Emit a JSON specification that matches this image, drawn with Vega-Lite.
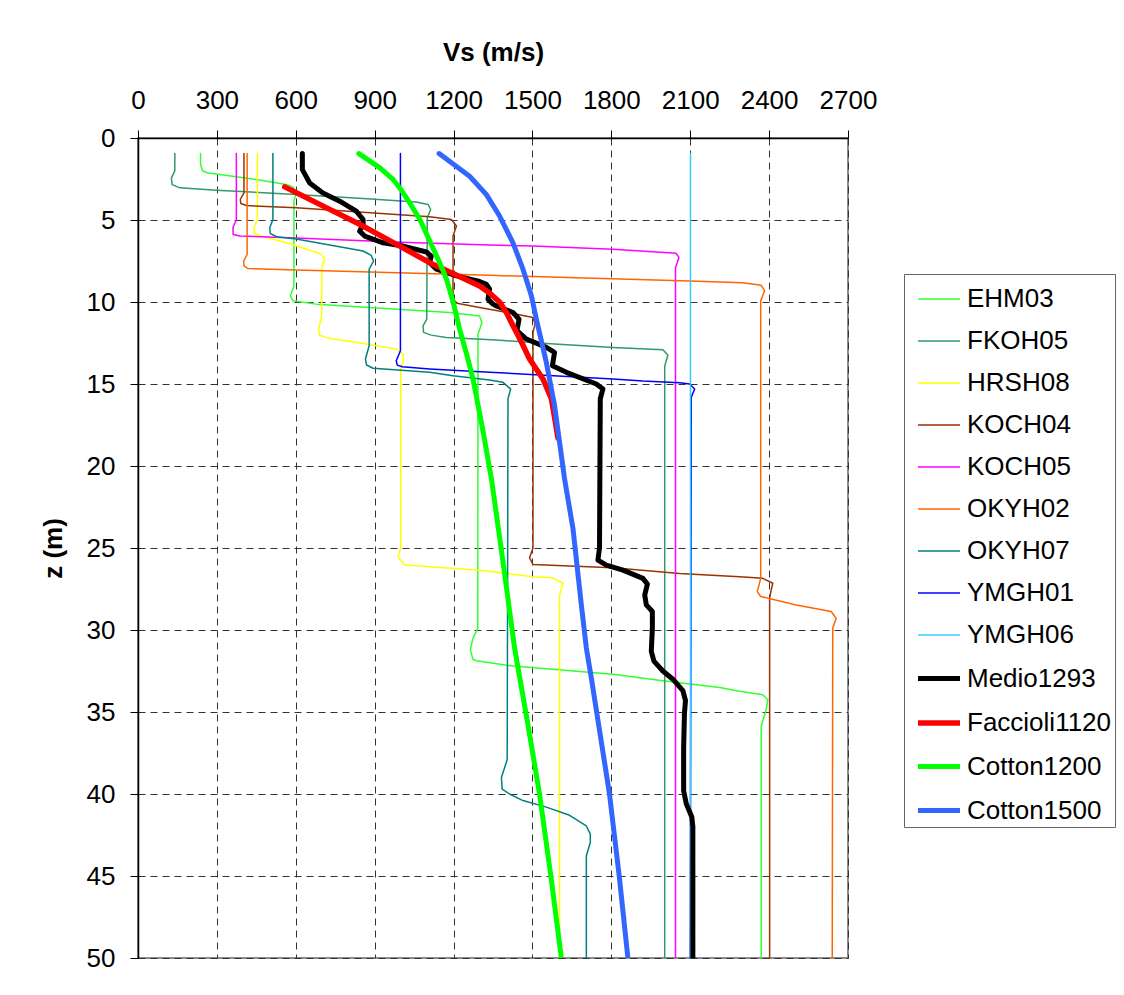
{
  "$schema": "https://vega.github.io/schema/vega-lite/v6.json",
  "width": 710,
  "height": 820,
  "autosize": {"type": "none"},
  "padding": {"left": 138, "top": 138, "right": 276, "bottom": 37},
  "background": "#ffffff",
  "config": {
    "font": "Liberation Sans",
    "view": {"stroke": "#8c8c8c", "strokeWidth": 2}
  },
  "data": {
    "values": [
      {"s":"EHM03","v":238,"z":0.95},{"s":"EHM03","v":238,"z":1.62},{"s":"EHM03","v":245,"z":2.0},{"s":"EHM03","v":266,"z":2.13},{"s":"EHM03","v":298,"z":2.19},{"s":"EHM03","v":450,"z":2.53},{"s":"EHM03","v":564,"z":2.84},{"s":"EHM03","v":589,"z":2.98},{"s":"EHM03","v":602,"z":3.35},{"s":"EHM03","v":593,"z":3.85},{"s":"EHM03","v":593,"z":9.02},{"s":"EHM03","v":579,"z":9.63},{"s":"EHM03","v":589,"z":9.93},{"s":"EHM03","v":678,"z":10.13},{"s":"EHM03","v":881,"z":10.34},{"s":"EHM03","v":1185,"z":10.64},{"s":"EHM03","v":1299,"z":10.85},{"s":"EHM03","v":1308,"z":11.25},{"s":"EHM03","v":1293,"z":11.96},{"s":"EHM03","v":1292,"z":29.9},{"s":"EHM03","v":1274,"z":30.5},{"s":"EHM03","v":1264,"z":31.2},{"s":"EHM03","v":1274,"z":31.8},{"s":"EHM03","v":1287,"z":31.87},{"s":"EHM03","v":1426,"z":32.2},{"s":"EHM03","v":1806,"z":32.7},{"s":"EHM03","v":1996,"z":33.1},{"s":"EHM03","v":2212,"z":33.5},{"s":"EHM03","v":2288,"z":33.74},{"s":"EHM03","v":2376,"z":33.95},{"s":"EHM03","v":2395,"z":34.25},{"s":"EHM03","v":2389,"z":34.86},{"s":"EHM03","v":2370,"z":35.87},{"s":"EHM03","v":2370,"z":50},
      {"s":"FKOH05","v":140,"z":0.95},{"s":"FKOH05","v":140,"z":2.0},{"s":"FKOH05","v":127,"z":2.43},{"s":"FKOH05","v":130,"z":2.84},{"s":"FKOH05","v":159,"z":3.04},{"s":"FKOH05","v":298,"z":3.18},{"s":"FKOH05","v":602,"z":3.45},{"s":"FKOH05","v":856,"z":3.69},{"s":"FKOH05","v":1058,"z":3.9},{"s":"FKOH05","v":1103,"z":4.05},{"s":"FKOH05","v":1113,"z":4.36},{"s":"FKOH05","v":1100,"z":4.86},{"s":"FKOH05","v":1098,"z":11.05},{"s":"FKOH05","v":1084,"z":11.45},{"s":"FKOH05","v":1086,"z":11.85},{"s":"FKOH05","v":1115,"z":12.02},{"s":"FKOH05","v":1172,"z":12.16},{"s":"FKOH05","v":1363,"z":12.32},{"s":"FKOH05","v":1553,"z":12.53},{"s":"FKOH05","v":1806,"z":12.77},{"s":"FKOH05","v":1996,"z":12.91},{"s":"FKOH05","v":2015,"z":13.23},{"s":"FKOH05","v":2003,"z":13.92},{"s":"FKOH05","v":2003,"z":50},
      {"s":"HRSH08","v":454,"z":0.95},{"s":"HRSH08","v":454,"z":4.97},{"s":"HRSH08","v":441,"z":5.47},{"s":"HRSH08","v":443,"z":5.82},{"s":"HRSH08","v":469,"z":5.98},{"s":"HRSH08","v":589,"z":6.49},{"s":"HRSH08","v":697,"z":7.09},{"s":"HRSH08","v":710,"z":7.4},{"s":"HRSH08","v":699,"z":7.9},{"s":"HRSH08","v":698,"z":10.9},{"s":"HRSH08","v":687,"z":11.65},{"s":"HRSH08","v":690,"z":12.02},{"s":"HRSH08","v":729,"z":12.22},{"s":"HRSH08","v":805,"z":12.4},{"s":"HRSH08","v":982,"z":12.87},{"s":"HRSH08","v":1008,"z":13.17},{"s":"HRSH08","v":1010,"z":13.48},{"s":"HRSH08","v":999,"z":14.08},{"s":"HRSH08","v":999,"z":25.0},{"s":"HRSH08","v":989,"z":25.53},{"s":"HRSH08","v":1014,"z":26.04},{"s":"HRSH08","v":1071,"z":26.1},{"s":"HRSH08","v":1299,"z":26.35},{"s":"HRSH08","v":1502,"z":26.75},{"s":"HRSH08","v":1578,"z":26.82},{"s":"HRSH08","v":1616,"z":27.15},{"s":"HRSH08","v":1603,"z":27.9},{"s":"HRSH08","v":1603,"z":50},
      {"s":"KOCH04","v":403,"z":0.95},{"s":"KOCH04","v":403,"z":3.35},{"s":"KOCH04","v":389,"z":3.75},{"s":"KOCH04","v":391,"z":3.99},{"s":"KOCH04","v":412,"z":4.12},{"s":"KOCH04","v":602,"z":4.25},{"s":"KOCH04","v":1109,"z":4.8},{"s":"KOCH04","v":1192,"z":4.97},{"s":"KOCH04","v":1211,"z":5.37},{"s":"KOCH04","v":1198,"z":5.98},{"s":"KOCH04","v":1198,"z":9.6},{"s":"KOCH04","v":1202,"z":9.9},{"s":"KOCH04","v":1213,"z":10.07},{"s":"KOCH04","v":1299,"z":10.34},{"s":"KOCH04","v":1426,"z":10.7},{"s":"KOCH04","v":1502,"z":10.95},{"s":"KOCH04","v":1510,"z":11.35},{"s":"KOCH04","v":1502,"z":11.85},{"s":"KOCH04","v":1502,"z":25.0},{"s":"KOCH04","v":1489,"z":25.6},{"s":"KOCH04","v":1502,"z":26.0},{"s":"KOCH04","v":1806,"z":26.2},{"s":"KOCH04","v":2060,"z":26.55},{"s":"KOCH04","v":2288,"z":26.75},{"s":"KOCH04","v":2376,"z":26.85},{"s":"KOCH04","v":2414,"z":27.15},{"s":"KOCH04","v":2408,"z":27.55},{"s":"KOCH04","v":2402,"z":28.05},{"s":"KOCH04","v":2402,"z":50},
      {"s":"KOCH05","v":374,"z":0.95},{"s":"KOCH05","v":374,"z":4.97},{"s":"KOCH05","v":361,"z":5.47},{"s":"KOCH05","v":362,"z":5.88},{"s":"KOCH05","v":387,"z":5.98},{"s":"KOCH05","v":602,"z":6.09},{"s":"KOCH05","v":1000,"z":6.35},{"s":"KOCH05","v":1337,"z":6.53},{"s":"KOCH05","v":1502,"z":6.59},{"s":"KOCH05","v":1806,"z":6.79},{"s":"KOCH05","v":2047,"z":7.03},{"s":"KOCH05","v":2057,"z":7.3},{"s":"KOCH05","v":2044,"z":7.9},{"s":"KOCH05","v":2044,"z":50},
      {"s":"OKYH02","v":415,"z":0.95},{"s":"OKYH02","v":415,"z":7.1},{"s":"OKYH02","v":402,"z":7.5},{"s":"OKYH02","v":403,"z":7.8},{"s":"OKYH02","v":418,"z":7.96},{"s":"OKYH02","v":602,"z":8.05},{"s":"OKYH02","v":1337,"z":8.37},{"s":"OKYH02","v":1502,"z":8.45},{"s":"OKYH02","v":2098,"z":8.72},{"s":"OKYH02","v":2300,"z":8.82},{"s":"OKYH02","v":2370,"z":8.98},{"s":"OKYH02","v":2383,"z":9.32},{"s":"OKYH02","v":2368,"z":9.93},{"s":"OKYH02","v":2368,"z":26.85},{"s":"OKYH02","v":2355,"z":27.66},{"s":"OKYH02","v":2368,"z":27.96},{"s":"OKYH02","v":2503,"z":28.47},{"s":"OKYH02","v":2636,"z":28.87},{"s":"OKYH02","v":2655,"z":29.28},{"s":"OKYH02","v":2642,"z":29.9},{"s":"OKYH02","v":2640,"z":50},
      {"s":"OKYH07","v":513,"z":0.95},{"s":"OKYH07","v":513,"z":4.97},{"s":"OKYH07","v":501,"z":5.47},{"s":"OKYH07","v":503,"z":5.82},{"s":"OKYH07","v":526,"z":6.02},{"s":"OKYH07","v":602,"z":6.16},{"s":"OKYH07","v":856,"z":6.89},{"s":"OKYH07","v":887,"z":7.16},{"s":"OKYH07","v":896,"z":7.5},{"s":"OKYH07","v":879,"z":8.0},{"s":"OKYH07","v":879,"z":12.67},{"s":"OKYH07","v":865,"z":13.48},{"s":"OKYH07","v":869,"z":13.84},{"s":"OKYH07","v":894,"z":14.04},{"s":"OKYH07","v":1109,"z":14.29},{"s":"OKYH07","v":1198,"z":14.5},{"s":"OKYH07","v":1337,"z":14.75},{"s":"OKYH07","v":1388,"z":14.9},{"s":"OKYH07","v":1417,"z":15.3},{"s":"OKYH07","v":1407,"z":15.9},{"s":"OKYH07","v":1404,"z":37.9},{"s":"OKYH07","v":1382,"z":39.0},{"s":"OKYH07","v":1385,"z":39.7},{"s":"OKYH07","v":1413,"z":40.0},{"s":"OKYH07","v":1464,"z":40.4},{"s":"OKYH07","v":1553,"z":40.8},{"s":"OKYH07","v":1641,"z":41.3},{"s":"OKYH07","v":1705,"z":41.95},{"s":"OKYH07","v":1720,"z":42.45},{"s":"OKYH07","v":1720,"z":42.96},{"s":"OKYH07","v":1705,"z":43.77},{"s":"OKYH07","v":1705,"z":50},
      {"s":"YMGH01","v":998,"z":0.95},{"s":"YMGH01","v":998,"z":12.97},{"s":"YMGH01","v":982,"z":13.58},{"s":"YMGH01","v":986,"z":13.85},{"s":"YMGH01","v":1005,"z":13.95},{"s":"YMGH01","v":1109,"z":14.08},{"s":"YMGH01","v":1320,"z":14.27},{"s":"YMGH01","v":1806,"z":14.69},{"s":"YMGH01","v":1920,"z":14.82},{"s":"YMGH01","v":2060,"z":14.92},{"s":"YMGH01","v":2098,"z":15.0},{"s":"YMGH01","v":2117,"z":15.3},{"s":"YMGH01","v":2104,"z":15.8},{"s":"YMGH01","v":2100,"z":50},
      {"s":"YMGH06","v":2101,"z":0.95},{"s":"YMGH06","v":2101,"z":50},
      {"s":"Medio1293","v":625,"z":0.95},{"s":"Medio1293","v":625,"z":1.93},{"s":"Medio1293","v":653,"z":2.74},{"s":"Medio1293","v":703,"z":3.35},{"s":"Medio1293","v":767,"z":3.85},{"s":"Medio1293","v":830,"z":4.46},{"s":"Medio1293","v":856,"z":4.97},{"s":"Medio1293","v":856,"z":5.27},{"s":"Medio1293","v":843,"z":5.68},{"s":"Medio1293","v":862,"z":5.98},{"s":"Medio1293","v":932,"z":6.39},{"s":"Medio1293","v":1008,"z":6.59},{"s":"Medio1293","v":1097,"z":6.95},{"s":"Medio1293","v":1115,"z":7.2},{"s":"Medio1293","v":1109,"z":7.6},{"s":"Medio1293","v":1135,"z":8.0},{"s":"Medio1293","v":1211,"z":8.41},{"s":"Medio1293","v":1299,"z":8.75},{"s":"Medio1293","v":1325,"z":8.92},{"s":"Medio1293","v":1337,"z":9.22},{"s":"Medio1293","v":1331,"z":9.83},{"s":"Medio1293","v":1350,"z":10.13},{"s":"Medio1293","v":1363,"z":10.24},{"s":"Medio1293","v":1426,"z":10.64},{"s":"Medio1293","v":1449,"z":11.05},{"s":"Medio1293","v":1441,"z":11.75},{"s":"Medio1293","v":1477,"z":12.26},{"s":"Medio1293","v":1553,"z":12.77},{"s":"Medio1293","v":1584,"z":13.07},{"s":"Medio1293","v":1576,"z":13.88},{"s":"Medio1293","v":1629,"z":14.29},{"s":"Medio1293","v":1743,"z":15.0},{"s":"Medio1293","v":1768,"z":15.3},{"s":"Medio1293","v":1758,"z":15.9},{"s":"Medio1293","v":1755,"z":25.0},{"s":"Medio1293","v":1749,"z":25.74},{"s":"Medio1293","v":1781,"z":26.04},{"s":"Medio1293","v":1844,"z":26.35},{"s":"Medio1293","v":1920,"z":26.85},{"s":"Medio1293","v":1937,"z":27.2},{"s":"Medio1293","v":1927,"z":27.87},{"s":"Medio1293","v":1933,"z":28.47},{"s":"Medio1293","v":1956,"z":28.87},{"s":"Medio1293","v":1956,"z":29.9},{"s":"Medio1293","v":1952,"z":31.3},{"s":"Medio1293","v":1962,"z":31.9},{"s":"Medio1293","v":1996,"z":32.5},{"s":"Medio1293","v":2034,"z":33.0},{"s":"Medio1293","v":2072,"z":33.7},{"s":"Medio1293","v":2082,"z":34.3},{"s":"Medio1293","v":2078,"z":35.1},{"s":"Medio1293","v":2075,"z":37.2},{"s":"Medio1293","v":2075,"z":39.8},{"s":"Medio1293","v":2085,"z":40.6},{"s":"Medio1293","v":2106,"z":41.4},{"s":"Medio1293","v":2110,"z":42.0},{"s":"Medio1293","v":2110,"z":50},
      {"s":"Faccioli1120","v":558,"z":2.98},{"s":"Faccioli1120","v":710,"z":4.2},{"s":"Faccioli1120","v":856,"z":5.37},{"s":"Faccioli1120","v":985,"z":6.5},{"s":"Faccioli1120","v":1109,"z":7.6},{"s":"Faccioli1120","v":1210,"z":8.35},{"s":"Faccioli1120","v":1299,"z":9.02},{"s":"Faccioli1120","v":1337,"z":9.45},{"s":"Faccioli1120","v":1375,"z":10.0},{"s":"Faccioli1120","v":1401,"z":10.64},{"s":"Faccioli1120","v":1426,"z":11.45},{"s":"Faccioli1120","v":1460,"z":12.5},{"s":"Faccioli1120","v":1489,"z":13.48},{"s":"Faccioli1120","v":1540,"z":14.69},{"s":"Faccioli1120","v":1572,"z":15.9},{"s":"Faccioli1120","v":1586,"z":17.2},{"s":"Faccioli1120","v":1597,"z":18.3},
      {"s":"Cotton1200","v":840,"z":0.95},{"s":"Cotton1200","v":920,"z":1.82},{"s":"Cotton1200","v":970,"z":2.53},{"s":"Cotton1200","v":1000,"z":3.14},{"s":"Cotton1200","v":1033,"z":3.95},{"s":"Cotton1200","v":1072,"z":4.97},{"s":"Cotton1200","v":1110,"z":6.3},{"s":"Cotton1200","v":1147,"z":7.6},{"s":"Cotton1200","v":1173,"z":8.6},{"s":"Cotton1200","v":1200,"z":10.1},{"s":"Cotton1200","v":1223,"z":11.65},{"s":"Cotton1200","v":1250,"z":13.2},{"s":"Cotton1200","v":1274,"z":14.69},{"s":"Cotton1200","v":1310,"z":17.7},{"s":"Cotton1200","v":1344,"z":20.77},{"s":"Cotton1200","v":1388,"z":25.84},{"s":"Cotton1200","v":1432,"z":31.1},{"s":"Cotton1200","v":1480,"z":35.5},{"s":"Cotton1200","v":1527,"z":40.0},{"s":"Cotton1200","v":1570,"z":45},{"s":"Cotton1200","v":1610,"z":50},
      {"s":"Cotton1500","v":1145,"z":0.95},{"s":"Cotton1500","v":1261,"z":2.33},{"s":"Cotton1500","v":1325,"z":3.45},{"s":"Cotton1500","v":1375,"z":4.76},{"s":"Cotton1500","v":1426,"z":6.39},{"s":"Cotton1500","v":1464,"z":8.0},{"s":"Cotton1500","v":1496,"z":9.62},{"s":"Cotton1500","v":1515,"z":11.05},{"s":"Cotton1500","v":1553,"z":13.7},{"s":"Cotton1500","v":1584,"z":16.3},{"s":"Cotton1500","v":1622,"z":20.77},{"s":"Cotton1500","v":1654,"z":23.8},{"s":"Cotton1500","v":1686,"z":28.47},{"s":"Cotton1500","v":1705,"z":31.1},{"s":"Cotton1500","v":1724,"z":32.93},{"s":"Cotton1500","v":1793,"z":40.0},{"s":"Cotton1500","v":1830,"z":45},{"s":"Cotton1500","v":1863,"z":50}
    ]
  },
  "mark": {"type": "line", "strokeJoin": "round", "strokeCap": "round", "clip": true},
  "encoding": {
    "x": {
      "field": "v", "type": "quantitative",
      "scale": {"domain": [0, 2700], "nice": false, "zero": false},
      "axis": {
        "orient": "top",
        "values": [0, 300, 600, 900, 1200, 1500, 1800, 2100, 2400, 2700],
        "format": "d",
        "title": "Vs (m/s)",
        "titleFontSize": 26, "titleFontWeight": "bold", "titleColor": "#000000",
        "titleX": 355, "titleY": -86, "titleBaseline": "middle", "titleAlign": "center",
        "labelFontSize": 26, "labelColor": "#000000", "labelPadding": 17,
        "labelFlush": false, "labelOverlap": false,
        "tickSize": 8, "tickColor": "#000000", "tickWidth": 1,
        "domainColor": "#000000", "domainWidth": 1.5,
        "grid": true, "gridColor": "#333333", "gridDash": [7, 5], "gridWidth": 1
      }
    },
    "y": {
      "field": "z", "type": "quantitative",
      "scale": {"domain": [0, 50], "nice": false, "zero": false, "reverse": true},
      "axis": {
        "orient": "left",
        "values": [0, 5, 10, 15, 20, 25, 30, 35, 40, 45, 50],
        "format": "d",
        "title": "z (m)",
        "titleFontSize": 26, "titleFontWeight": "bold", "titleColor": "#000000",
        "titleAngle": -90, "titleX": -85, "titleY": 410, "titleBaseline": "middle", "titleAlign": "center",
        "labelFontSize": 26, "labelColor": "#000000", "labelPadding": 15,
        "labelFlush": false, "labelOverlap": false,
        "tickSize": 8, "tickColor": "#000000", "tickWidth": 1,
        "domainColor": "#000000", "domainWidth": 1.5,
        "grid": true, "gridColor": "#333333", "gridDash": [7, 5], "gridWidth": 1
      }
    },
    "order": {"field": "z", "type": "quantitative"},
    "color": {
      "field": "s", "type": "ordinal",
      "scale": {
        "domain": ["EHM03","FKOH05","HRSH08","KOCH04","KOCH05","OKYH02","OKYH07","YMGH01","YMGH06","Medio1293","Faccioli1120","Cotton1200","Cotton1500"],
        "range": ["#33ff33","#339966","#ffff00","#993300","#ff00ff","#ff6600","#008080","#0000ff","#33ccff","#000000","#ff0000","#00ff00","#3366ff"]
      },
      "legend": {
        "orient": "none", "legendX": 766, "legendY": 136, "title": null,
        "padding": 3, "symbolType": "stroke", "symbolSize": 1764, "symbolOffset": 8,
        "labelOffset": 4, "labelFontSize": 26, "labelColor": "#000000", "labelLimit": 400,
        "strokeColor": "#666666", "rowPadding": 7
      }
    },
    "strokeWidth": {
      "field": "s", "type": "ordinal",
      "scale": {
        "type": "ordinal",
        "domain": ["EHM03","FKOH05","HRSH08","KOCH04","KOCH05","OKYH02","OKYH07","YMGH01","YMGH06","Medio1293","Faccioli1120","Cotton1200","Cotton1500"],
        "range": [1.5,1.5,1.5,1.5,1.5,1.5,1.5,1.5,1.5,5,5.5,5,5]
      },
      "legend": {
        "orient": "none", "legendX": 766, "legendY": 136, "title": null,
        "padding": 3, "symbolType": "stroke", "symbolSize": 1764, "symbolOffset": 8,
        "labelOffset": 4, "labelFontSize": 26, "labelColor": "#000000", "labelLimit": 400,
        "strokeColor": "#666666", "rowPadding": 7
      }
    }
  }
}
